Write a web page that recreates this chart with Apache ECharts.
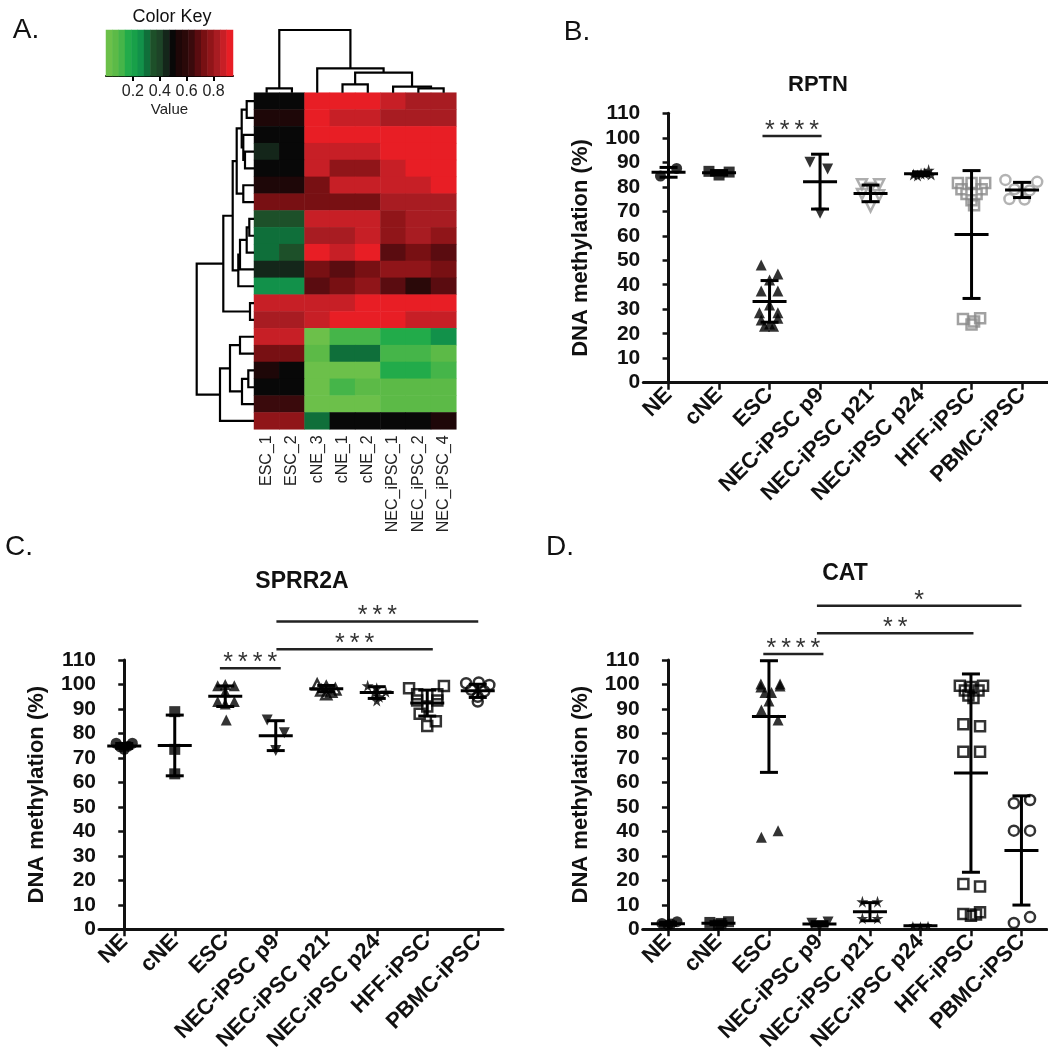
<!DOCTYPE html>
<html>
<head>
<meta charset="utf-8">
<script src="https://cdn.jsdelivr.net/npm/echarts@6/dist/echarts.min.js"></script>
<style>html,body{margin:0;padding:0;background:#fff}#c{width:1048px;height:1050px}</style>
</head>
<body>
<div id="c"></div>
<script>
// ---------------- DATA ----------------
const hmCols = ['ESC_1','ESC_2','cNE_3','cNE_1','cNE_2','NEC_iPSC_1','NEC_iPSC_2','NEC_iPSC_4'];
const hmValues = [
 [0.50,0.50,0.92,0.92,0.93,0.875,0.83,0.83],
 [0.545,0.545,0.92,0.875,0.875,0.83,0.83,0.83],
 [0.50,0.50,0.92,0.92,0.92,0.92,0.92,0.93],
 [0.45,0.50,0.875,0.875,0.875,0.92,0.92,0.92],
 [0.50,0.50,0.875,0.78,0.78,0.875,0.92,0.92],
 [0.545,0.545,0.73,0.875,0.875,0.875,0.875,0.92],
 [0.73,0.73,0.73,0.73,0.73,0.83,0.83,0.83],
 [0.355,0.355,0.875,0.875,0.875,0.78,0.83,0.83],
 [0.31,0.31,0.83,0.83,0.875,0.78,0.83,0.78],
 [0.31,0.355,0.92,0.875,0.92,0.685,0.73,0.685],
 [0.45,0.45,0.73,0.685,0.73,0.78,0.78,0.73],
 [0.26,0.26,0.685,0.73,0.78,0.685,0.59,0.685],
 [0.875,0.875,0.875,0.875,0.92,0.92,0.92,0.92],
 [0.83,0.83,0.875,0.92,0.92,0.92,0.875,0.875],
 [0.875,0.875,0.02,0.12,0.12,0.165,0.165,0.26],
 [0.73,0.73,0.07,0.31,0.31,0.12,0.12,0.07],
 [0.545,0.50,0.02,0.02,0.02,0.165,0.165,0.12],
 [0.50,0.50,0.02,0.12,0.07,0.07,0.07,0.07],
 [0.64,0.64,0.02,0.02,0.02,0.07,0.07,0.07],
 [0.78,0.78,0.31,0.50,0.50,0.50,0.50,0.545]
];
// colour key: 20 bins over 0 .. 0.945
const keyMax = 0.945;
const keyBins = [0.024,0.071,0.118,0.165,0.213,0.260,0.307,0.354,0.402,0.449,0.496,0.543,0.591,0.638,0.685,0.732,0.780,0.827,0.874,0.921];
const keyColors = ['#6cc04a','#5cba47','#45b549','#22ab4a','#18a049','#12914a','#0f6f3a','#1d5029','#1d4327','#14261a','#080808','#1e0708','#2a0909','#3a0a0c','#5a0c10','#781013','#901519','#a81c22','#c71f26','#e81e25'];
const keyTicks = [0.2,0.4,0.6,0.8];
// dendrograms (hclust style merges: negative = leaf, positive = earlier merge; third = height)
const colMerges = [[-1,-2,4.4],[-7,-8,4.4],[-6,2,6],[-4,-5,8.4],[4,3,20],[-3,5,24.4],[1,6,62.7]];
const rowMerges = [[-1,-2,7.3],[-4,-5,9],[-3,2,10.7],[1,3,12.3],[-6,-7,10.7],[4,5,17.3],
 [-8,-9,4.7],[7,-10,7.3],[8,-11,14],[9,-12,15.7],[6,10,21.3],[-13,-14,4],[11,12,30.7],
 [-15,-16,14],[-17,-18,5.7],[15,-19,12],[14,16,24],[17,-20,34],[13,18,57.3]];

const groups = ['NE','cNE','ESC','NEC-iPSC p9','NEC-iPSC p21','NEC-iPSC p24','HFF-iPSC','PBMC-iPSC'];
const yTicks = [0,110,10];
// points: [spread within category, value]
const rptnPoints = [
 [[-0.16,84.4],[0.16,87.5]],
 [[-0.2,86.3],[0,84.8],[0.2,86]],
 [[-0.165,48.1],[0.165,44.4],[0,41.9],[-0.165,37.4],[0.165,37.4],[0,31.7],[-0.2,28.6],[0.165,28.6],[-0.165,25.6],[0.165,26.3],[-0.1,23.1],[0.08,23.1],[0,24]],
 [[-0.2,90],[0.15,87.3],[0,69.2]],
 [[-0.17,81],[0.17,81],[0,79.5],[-0.17,77],[0.17,76.5],[0,72]],
 [[-0.15,85],[0.15,86.8],[0,85.3],[-0.07,84.6],[0.07,85.5],[0.2,85]],
 [[-0.27,81.5],[0,81.5],[0.27,81.5],[-0.2,79],[0.2,79],[-0.1,77],[0.1,77],[0,74.5],[0.05,72.5],[-0.17,26],[0.17,26.3],[0,23.8],[0.05,25]],
 [[-0.33,82.8],[0.3,82],[-0.15,79],[0.15,78.5],[-0.25,75],[0.05,74.8]]
];
const rptnMean = [85.9,85.7,33.2,82.1,77.3,85.3,60.5,78.7];
const rptnSD = [2.0,0.9,8.5,11.2,3.4,0.8,26.1,3.1];
const rptnSig = [[1.86,3.03,100.7,'****']];

const sprr2aPoints = [
 [[-0.16,76],[0.16,76],[0,73.5],[-0.08,74.5],[0.08,74.8]],
 [[0,88.9],[0,73.5],[0,63.5]],
 [[-0.15,99.5],[0.18,99.5],[0,100],[0,97],[-0.15,93],[0.18,93],[0,92],[0.02,85.5]],
 [[-0.17,85.5],[0.17,80.3],[0,73]],
 [[-0.18,100],[0,99],[0.18,98],[-0.1,97.5],[0.1,97],[0,96]],
 [[-0.18,99.5],[0,98.5],[0.18,97],[-0.05,96.5],[0.05,95],[0,93.5]],
 [[-0.36,98.5],[0.33,99.4],[-0.2,96],[0.2,96],[-0.2,93.5],[0.2,93.5],[0,91],[-0.15,88],[0.17,85],[0,83]],
 [[-0.23,100.5],[0.02,100.8],[0.23,99.8],[-0.13,97.8],[0.13,97.2],[0,95],[0,93]]
];
const sprr2aMean = [74.9,75.1,95.2,79.1,98.3,96.7,92.4,97.4];
const sprr2aSD = [1.0,12.4,4.2,6.1,1.3,2.4,5.3,2.7];
const sprr2aSig = [[1.894,3.099,106.6,'****'],[3.013,6.11,114.4,'***'],[3.013,7.01,125.7,'***']];

const catPoints = [
 [[-0.12,2.4],[0.18,3.1],[0,1.8],[0.06,2.2]],
 [[-0.17,2.8],[0.2,3.1],[0,1.8],[0.05,2.4]],
 [[-0.16,100.2],[0.22,100.2],[-0.08,96.7],[0.05,96.7],[0,93.3],[-0.15,89.6],[0.18,85.5],[-0.15,37.6],[0.18,40.3],[0.22,99.4],[-0.16,99]],
 [[-0.15,2.5],[0.17,3],[0,1.2]],
 [[-0.15,11.3],[0.15,11.3],[-0.15,4.5],[0.15,4.5]],
 [[-0.15,1.6],[0,1.4],[0.15,1.7]],
 [[-0.22,99.5],[0.24,99.5],[0,99],[-0.12,97.5],[0.15,97.5],[-0.05,95.5],[0.05,94.5],[-0.15,83.8],[0.18,82.9],[-0.15,72.5],[0.18,72.5],[-0.15,18.5],[0.18,17.5],[-0.15,6.3],[0.18,7],[0,5.5],[0.1,6]],
 [[-0.15,51.5],[0.17,52.8],[-0.15,40.3],[0.17,40.3],[-0.15,2.6],[0.17,5]]
];
const catMean = [2.3,2.5,86.9,2.2,7.2,1.5,63.8,32.2];
const catSD = [0.6,0.6,22.8,0.9,3.7,0.2,40.5,22.3];
const catSig = [[1.888,3.079,112.5,'****'],[2.95,6.05,120.9,'**'],[2.95,7.0,132.2,'*']];

// ---------------- STYLES ----------------
const FONT = 'Liberation Sans, Arial, sans-serif';
const DOWN = 'path://M0,0L10,0L5,9Z';
const STAR = 'path://M50,0L61,35L98,35L68,57L79,91L50,70L21,91L32,57L2,35L39,35Z';
const stB = [{s:'circle'},{s:'rect'},{s:'triangle'},{s:DOWN},{s:DOWN,open:'#9a9a9a'},{s:STAR,size:12},{s:'rect',open:'#8a8a8a'},{s:'circle',open:'#a0a0a0'}];
const stC = [{s:'circle'},{s:'rect'},{s:'triangle'},{s:DOWN},{s:'triangle',open:'#000',size:10},{s:STAR,size:12},{s:'rect',open:'#000'},{s:'circle',open:'#000'}];
const stD = [{s:'circle'},{s:'rect'},{s:'triangle'},{s:DOWN},{s:STAR,size:12},{s:STAR,size:9},{s:'rect',open:'#000'},{s:'circle',open:'#000'}];

// ---------------- BUILD ----------------
function dendroSegments(merges){
  const pos=[],ht=[],segs=[];
  const get=id=>id<0?[-id-0.5,0]:[pos[id-1],ht[id-1]];
  merges.forEach((m,k)=>{
    const a=get(m[0]),b=get(m[1]);
    segs.push([[a[0],a[1]],[a[0],m[2]],[b[0],m[2]],[b[0],b[1]]]);
    pos[k]=(a[0]+b[0])/2; ht[k]=m[2];
  });
  return segs;
}
const colSegs = dendroSegments(colMerges);
const rowSegs = dendroSegments(rowMerges).map(s=>s.map(p=>[p[1],p[0]]));

const hmData=[];
hmValues.forEach((row,r)=>row.forEach((v,c)=>hmData.push([c,r,v])));
const keyData = keyBins.map((v,i)=>[i,0,v]);
const w = keyMax/keyColors.length;
const pieces = keyColors.map((c,i)=>({gte:i*w, lt:(i+1)*w, color:c}));

const grids = [
 {left:106, top:30, width:127, height:46},      //0 key
 {left:254, top:28, width:202.3, height:64.7},   //1 col dendro
 {left:196, top:92.7, width:58, height:336.6},   //2 row dendro
 {left:254, top:92.7, width:202.3, height:336.6},//3 heatmap
 {left:643.3, top:113.3, width:404, height:269.4},//4 B
 {left:99, top:660, width:404, height:269.3},   //5 C
 {left:642.7, top:660, width:404, height:269.3}  //6 D
].map(g=>Object.assign({containLabel:false, outerBoundsMode:'none'},g));

function catX(gi){
  return {type:'category', gridIndex:gi, data:groups, boundaryGap:true, position:'bottom',
    axisLine:{show:true, lineStyle:{color:'#111', width:3}},
    axisTick:{show:true, alignWithLabel:true, length:7, lineStyle:{color:'#111', width:2.5}},
    axisLabel:{show:true, interval:0, rotate:45, margin:9, fontSize:22, fontWeight:'bold', color:'#111', fontFamily:FONT},
    splitLine:{show:false}};
}
function valX(gi){ return {type:'value', gridIndex:gi, min:-0.5, max:7.5, show:false}; }
function valY(gi){
  return {type:'value', gridIndex:gi, min:yTicks[0], max:yTicks[1], interval:yTicks[2],
    name:'DNA methylation (%)', nameLocation:'middle', nameGap:51, nameRotate:90,
    nameTextStyle:{fontSize:22, fontWeight:'bold', color:'#111', fontFamily:FONT},
    axisLine:{show:true, lineStyle:{color:'#111', width:3}},
    axisTick:{show:true, length:6, lineStyle:{color:'#111', width:2.5}},
    axisLabel:{show:true, margin:3, fontSize:21, fontWeight:'bold', color:'#111', fontFamily:FONT},
    splitLine:{show:false}};
}

const xAxes = [
 {type:'category', gridIndex:0, data:keyBins.map((v,i)=>i), show:false},
 {type:'value', gridIndex:0, min:0, max:keyMax, position:'bottom',
  axisLine:{show:true, onZero:false, lineStyle:{color:'#000', width:2}},
  axisTick:{show:true, customValues:keyTicks, length:5, lineStyle:{color:'#000', width:2}},
  axisLabel:{show:true, customValues:keyTicks, margin:8, fontSize:16, color:'#222', fontFamily:FONT},
  splitLine:{show:false},
  name:'Value', nameLocation:'middle', nameGap:26, nameTextStyle:{fontSize:15, color:'#222', fontFamily:FONT}},
 {type:'value', gridIndex:1, min:0, max:8, show:false},
 {type:'value', gridIndex:2, min:0, max:58, inverse:true, show:false},
 {type:'category', gridIndex:3, data:hmCols, position:'bottom',
  axisLine:{show:false}, axisTick:{show:false}, splitLine:{show:false},
  axisLabel:{show:true, interval:0, rotate:90, margin:6, fontSize:16, color:'#222', fontFamily:FONT}},
 catX(4), valX(4), catX(5), valX(5), catX(6), valX(6)
];
const yAxes = [
 {type:'category', gridIndex:0, data:['k'], show:false},
 {type:'value', gridIndex:1, min:0, max:64.7, show:false},
 {type:'value', gridIndex:2, min:0, max:20, inverse:true, show:false},
 {type:'category', gridIndex:3, data:hmValues.map((r,i)=>'r'+i), inverse:true, show:false},
 valY(4), valY(5), valY(6)
];

const series = [
 {type:'heatmap', xAxisIndex:0, yAxisIndex:0, data:keyData, silent:true, progressive:0},
 {type:'heatmap', xAxisIndex:4, yAxisIndex:3, data:hmData, silent:true, progressive:0},
 {type:'lines', coordinateSystem:'cartesian2d', xAxisIndex:2, yAxisIndex:1, polyline:true, silent:true,
  data:colSegs.map(s=>({coords:s})), lineStyle:{color:'#000', width:2.2, opacity:1}},
 {type:'lines', coordinateSystem:'cartesian2d', xAxisIndex:3, yAxisIndex:2, polyline:true, silent:true,
  data:rowSegs.map(s=>({coords:s})), lineStyle:{color:'#000', width:2.2, opacity:1}}
];

function addPanel(xi, yi, points, means, sds, sig, styles){
  points.forEach((pts,g)=>{
    const st = styles[g];
    const item = st.open ? {color:'rgba(0,0,0,0)', borderColor:st.open, borderWidth:2.5} : {color:'#000'};
    series.push({type:'scatter', xAxisIndex:xi, yAxisIndex:yi, silent:true,
      data:pts.map(p=>[g+p[0], p[1]]), symbol:st.s, symbolSize:st.size || (st.open?10:11), itemStyle:item, z:3});
  });
  series.push({type:'custom', xAxisIndex:xi, yAxisIndex:yi, silent:true, clip:false, z:5,
    data:means.map((m,i)=>[i,m,sds[i]]), encode:{x:0,y:1},
    renderItem:(p,api)=>{
      const c=api.value(0), m=api.value(1), s=api.value(2);
      const pm=api.coord([c,m]), pt=api.coord([c,m+s]), pb=api.coord([c,m-s]);
      const st={stroke:'#000', lineWidth:3};
      return {type:'group', children:[
        {type:'line', shape:{x1:pm[0],y1:pt[1],x2:pm[0],y2:pb[1]}, style:st},
        {type:'line', shape:{x1:pm[0]-17,y1:pm[1],x2:pm[0]+17,y2:pm[1]}, style:st},
        {type:'line', shape:{x1:pm[0]-9,y1:pt[1],x2:pm[0]+9,y2:pt[1]}, style:st},
        {type:'line', shape:{x1:pm[0]-9,y1:pb[1],x2:pm[0]+9,y2:pb[1]}, style:st}
      ]};
    }});
  series.push({type:'custom', xAxisIndex:xi, yAxisIndex:yi, silent:true, clip:false, z:5,
    data:sig.map(s=>[s[0],s[1],s[2]]), encode:{x:[0,1], y:2},
    renderItem:(p,api)=>{
      const a=api.coord([api.value(0),api.value(2)]), b=api.coord([api.value(1),api.value(2)]);
      const label = sig[p.dataIndex][3].split('').join('\u2009');
      return {type:'group', children:[
        {type:'line', shape:{x1:a[0],y1:a[1],x2:b[0],y2:b[1]}, style:{stroke:'#222', lineWidth:2.5}},
        {type:'text', x:(a[0]+b[0])/2, y:a[1]-5, style:{text:label, font:'25px '+FONT, fill:'#333',
          align:'center', verticalAlign:'middle', textAlign:'center', textVerticalAlign:'middle'}}
      ]};
    }});
}
addPanel(6,4,rptnPoints,rptnMean,rptnSD,rptnSig,stB);
addPanel(8,5,sprr2aPoints,sprr2aMean,sprr2aSD,sprr2aSig,stC);
addPanel(10,6,catPoints,catMean,catSD,catSig,stD);

function txt(text,x,y,size,weight){
  return {type:'text', x:x, y:y, silent:true, style:{text:text, font:(weight||'normal')+' '+size+'px '+FONT, fill:'#111',
    align:'center', verticalAlign:'middle', textAlign:'center', textVerticalAlign:'middle'}};
}
const graphics = [
 txt('A.',26,30,28), txt('B.',577,32,28), txt('C.',19,547,28), txt('D.',560,547,28),
 txt('Color Key',172,17,18),
 txt('RPTN',818,85,22,'bold'), txt('SPRR2A',302,582,23,'bold'), txt('CAT',845,574,23,'bold')
];

const chart = echarts.init(document.getElementById('c'), null, {renderer:'canvas'});
chart.setOption({
  animation:false, backgroundColor:'#fff',
  textStyle:{fontFamily:FONT},
  grid:grids, xAxis:xAxes, yAxis:yAxes,
  visualMap:{type:'piecewise', show:false, seriesIndex:[0,1], pieces:pieces},
  series:series, graphic:graphics
});
</script>
</body>
</html>
